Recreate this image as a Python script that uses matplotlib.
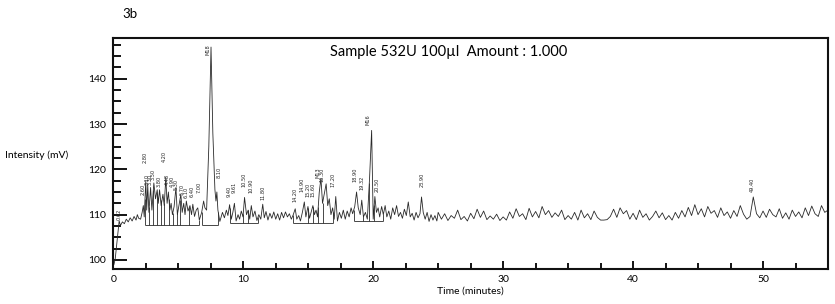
import numpy as np
import matplotlib
matplotlib.use("Agg")
import matplotlib.pyplot as plt
from matplotlib.ticker import MultipleLocator

plt.rcParams['font.family'] = ['Lato', 'DejaVu Sans']

# ---- trace, 0-25 min (time, mV) ----
t_early = [0.05, 0.15, 0.45, 0.55, 0.7, 0.85, 1.0, 1.15, 1.3, 1.45, 1.6, 1.75, 1.85,
           1.95, 2.1, 2.22, 2.31, 2.38, 2.50, 2.57, 2.65, 2.74, 2.87, 2.97, 3.12, 3.25,
           3.38, 3.46, 3.56, 3.68, 3.82, 3.92, 4.04, 4.14, 4.24, 4.35, 4.45, 4.55, 4.68,
           4.82, 4.93, 5.05, 5.2, 5.3, 5.42, 5.52, 5.62, 5.75, 5.9, 6.02, 6.12, 6.25,
           6.38, 6.5, 6.62, 6.8, 6.95, 7.05, 7.18, 7.35, 7.52, 7.66, 7.82, 7.9, 7.97,
           8.05, 8.2,
           8.4, 8.55, 8.7, 8.82, 8.95, 9.08, 9.2, 9.32, 9.45, 9.6, 9.72, 9.85, 9.98,
           10.1, 10.25, 10.38, 10.5, 10.62, 10.75, 10.9, 11.05, 11.2, 11.35, 11.5, 11.62,
           11.75, 11.9, 12.05, 12.2, 12.35, 12.5, 12.65, 12.8, 12.95, 13.1, 13.25, 13.4,
           13.55, 13.7, 13.85, 14.0, 14.12, 14.27, 14.4, 14.55, 14.7, 14.82, 14.98, 15.1,
           15.22, 15.36, 15.48, 15.6, 15.72, 15.85, 15.98, 16.1, 16.2, 16.38, 16.5, 16.62,
           16.75, 16.88, 17.0, 17.12, 17.25, 17.4, 17.55, 17.7, 17.85, 18.0, 18.15, 18.3,
           18.42, 18.58, 18.72, 18.85, 19.0, 19.12, 19.25, 19.4, 19.55, 19.72, 19.88, 20.0,
           20.13, 20.25, 20.38, 20.5, 20.65, 20.78, 20.92, 21.05, 21.2, 21.35, 21.5, 21.65,
           21.8, 21.95, 22.1, 22.25, 22.4, 22.55, 22.7, 22.85, 23.0, 23.15, 23.3, 23.45,
           23.6, 23.72, 23.85, 24.0, 24.15, 24.3, 24.45, 24.6, 24.75, 24.9]
v_early = [99.0, 100.3, 108.6, 107.6, 108.4, 108.0, 109.0, 108.4, 109.3, 108.6, 109.6, 108.8, 110.0,
           109.2, 109.0, 110.5, 112.0, 109.5, 117.5, 111.0, 116.5, 110.5, 116.0, 111.0, 117.0, 113.5,
           115.5, 112.5, 115.5, 112.0, 114.5, 112.0, 118.2, 112.5, 115.0, 111.0, 112.5, 110.0, 111.8,
           116.0, 110.0, 112.0, 114.5, 110.5, 112.5, 110.0, 113.0, 110.8, 112.0, 110.0, 112.3, 109.6,
           111.0, 111.5, 108.8, 110.5, 113.0, 111.5, 111.0, 125.0, 147.0, 128.0, 115.5, 113.0, 115.0,
           111.0, 108.5,
           110.5, 109.3, 111.0, 109.8, 112.2, 109.0, 110.5, 112.5, 108.6, 110.0, 109.0, 110.8, 109.5,
           113.8, 110.0, 111.0, 109.0, 112.0, 109.5, 110.8, 108.7, 110.0, 109.0, 112.3, 109.3,
           110.7, 108.8, 110.3, 109.2, 110.6, 109.0, 110.2, 108.8, 110.5, 109.3, 110.6, 109.5,
           110.2, 109.0, 110.0, 111.3, 109.0, 109.8, 108.6, 110.5, 112.8, 109.5, 111.8, 109.2,
           110.5, 112.0, 110.0, 111.0, 109.5, 115.0, 118.0, 112.5, 114.0, 116.8, 112.0, 113.5,
           110.0, 111.5, 109.0, 114.0, 108.6, 110.5, 109.2, 111.0, 109.0, 110.8, 109.5, 111.5,
           110.2, 111.8, 115.0, 111.5, 110.0, 113.2, 109.5, 110.5, 109.0, 118.0, 128.6, 109.0,
           114.0, 110.5, 111.5, 109.5, 111.8, 110.0, 112.0, 109.5, 110.8, 109.0, 111.5, 110.0,
           112.0, 109.6, 110.5, 109.2, 111.2, 109.8, 112.8, 109.5, 110.3, 108.8, 110.5, 109.3,
           110.2, 113.9, 110.5, 109.0, 110.5, 108.5, 110.0, 108.8, 109.8, 108.6]

# ---- trace, 25-55 min, every 0.25 min ----
v_late = [110.5, 109.0, 110.2, 108.7, 109.8, 109.2, 111.0, 108.9, 109.6, 108.6,
          110.3, 109.1, 111.2, 109.4, 110.8, 108.9, 109.7, 109.0, 110.1, 108.7,
          109.5, 108.8, 110.6, 109.2, 111.3, 109.6, 110.2, 108.9, 111.4, 109.5,
          110.7, 109.3, 111.8, 110.0, 110.9, 109.4, 110.4, 109.6, 111.0, 108.9,
          109.8, 109.0, 110.5, 108.8, 111.0, 109.3, 110.2, 108.9, 110.8, 109.4,
          108.8, 108.8, 108.9, 109.6, 111.2, 109.4, 111.5, 110.2, 110.9, 109.0,
          110.3, 108.9, 111.0, 109.4, 110.2, 108.8, 109.6, 110.8, 109.3, 110.4,
          108.9, 109.8, 108.8, 110.5, 109.2, 110.9, 109.5, 111.6, 109.8, 112.2,
          110.0, 111.3, 109.5, 111.8, 110.3, 110.9, 109.4, 111.5, 109.8, 110.6,
          109.2, 110.9, 109.6, 112.0, 110.1, 109.0, 109.6, 113.9, 110.2, 109.3,
          110.8, 109.4, 111.2, 110.0, 109.5, 111.3, 109.2, 110.4, 109.0, 111.0,
          109.6, 110.6, 109.3, 111.5, 109.8, 111.9, 110.2, 109.6, 112.0, 110.5,
          111.0]
t_late_start, t_late_end = 25.0, 55.0

# ---- integration baselines (start, end, mV) and drop lines (min) ----
base_start = [2.44, 6.80, 8.98, 13.85, 18.50]
base_end = [6.62, 8.08, 11.15, 16.92, 20.77]
base_level = [107.7, 107.7, 108.1, 108.2, 108.7]
drops = [2.44, 2.77, 3.08, 3.34, 3.64, 3.90, 4.28, 4.57, 4.92, 5.13, 5.85, 6.62,
         6.80, 8.08, 8.98, 10.0, 10.38, 11.15, 13.85, 15.0, 15.38, 15.77, 16.1, 16.92,
         18.50, 19.24, 19.7, 20.08, 20.77]

# ---- peak labels (text, time, mV of label foot) ----
peak_text = ['0.62', '2.60', '2.80', '3.10', '3.30', '3.50', '3.80', '4.20', '4.48', '4.90',
             '5.30', '5.70', '6.10', '6.40', '7.00', 'M18', '8.10', '9.40', '9.61', '10.50',
             '10.90', '11.80', '14.20', '14.90', '15.20', '15.60', 'M13', '16.30', '17.20',
             '18.90', '19.32', 'M16', '20.50', '23.90', '49.40']
peak_t = [0.46, 2.31, 2.44, 2.64, 2.87, 3.07, 3.54, 3.92, 4.15, 4.57,
          4.85, 5.26, 5.59, 6.05, 6.57, 7.30, 8.13, 8.92, 9.31, 10.07,
          10.56, 11.50, 14.00, 14.50, 14.96, 15.34, 15.72, 16.08, 16.88,
          18.59, 19.15, 19.61, 20.34, 23.76, 49.20]
peak_v = [108.8, 114.3, 121.4, 116.5, 116.5, 117.6, 116.1, 121.6, 116.5, 116.1,
          115.4, 114.3, 113.7, 113.9, 114.8, 145.2, 118.1, 113.9, 114.8, 116.1,
          114.7, 113.2, 112.8, 115.0, 113.9, 113.9, 118.1, 117.2, 116.1,
          117.2, 115.4, 129.7, 115.0, 116.1, 115.0]

t_late = np.linspace(t_late_start, t_late_end, len(v_late))
t_all = np.concatenate([np.array(t_early), t_late])
v_all = np.concatenate([np.array(v_early), np.array(v_late)])

fig = plt.figure(figsize=(8.35, 3.04), dpi=100)
ax = fig.add_axes([113.3 / 835, 1 - 269 / 304, (828 - 113.3) / 835, (269 - 38) / 304])

line_col = '#2a2a2a'
ax.plot(t_all, v_all, color=line_col, lw=0.6)
ax.hlines(base_level, base_start, base_end, color=line_col, lw=0.6)
for d in drops:
    lvl = base_level[0]
    for s, e, l in zip(base_start, base_end, base_level):
        if s - 0.01 <= d <= e + 0.01:
            lvl = l
    ax.vlines(d, lvl, np.interp(d, t_all, v_all), color=line_col, lw=0.6)

for txt, pt, pv in zip(peak_text, peak_t, peak_v):
    ax.text(pt, pv, txt, rotation=90, ha='center', va='bottom', fontsize=3.6,
            family=['DejaVu Sans'], color='#222222')

ax.set_xlim(0, 55)
ax.set_ylim(98, 149)
ax.xaxis.set_major_locator(MultipleLocator(10))
ax.xaxis.set_minor_locator(MultipleLocator(2.5))
ax.yaxis.set_major_locator(MultipleLocator(10))
ax.yaxis.set_minor_locator(MultipleLocator(2.5))
ax.tick_params(which='both', direction='in', width=1.3, color='black',
               top=False, right=False, labelsize=7.5)
ax.tick_params(axis='x', which='major', length=6, pad=4)
ax.tick_params(axis='x', which='minor', length=4)
ax.tick_params(axis='y', which='major', length=10, pad=5)
ax.tick_params(axis='y', which='minor', length=6)
for sp in ax.spines.values():
    sp.set_linewidth(1.5)
    sp.set_color('#111111')

ax.text(0.469, 0.94, 'Sample 532U 100µl  Amount : 1.000', transform=ax.transAxes,
        ha='center', va='center', fontsize=10.5)
ax.set_xlabel('Time (minutes)', fontsize=7.5, labelpad=2)
fig.text(5 / 835, 1 - 155 / 304, 'Intensity (mV)', ha='left', va='center', fontsize=7.5)
fig.text(122 / 835, 1 - 14 / 304, '3b', ha='left', va='center', fontsize=9.5)

fig.savefig('out.png', dpi=100)
